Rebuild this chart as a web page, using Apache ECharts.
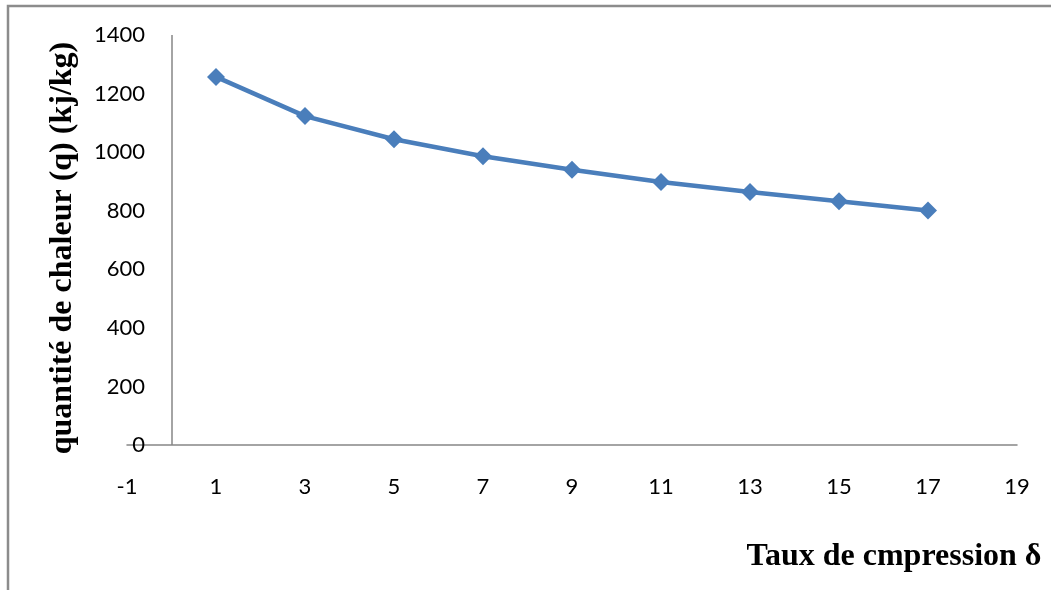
<!DOCTYPE html>
<html>
<head>
<meta charset="utf-8">
<style>
  html, body { margin: 0; padding: 0; background: #ffffff; }
  #chart { width: 1051px; height: 590px; }
</style>
<script src="https://cdn.jsdelivr.net/npm/echarts@6/dist/echarts.min.js"></script>
</head>
<body>
<div id="chart"></div>
<script>
// Compression ratio (x) and heat quantity q in kJ/kg (y)
const compressionRatio = [1, 3, 5, 7, 9, 11, 13, 15, 17];
const heatQuantity = [1257, 1123, 1044, 986, 940, 898, 864, 832, 801];

const xMin = -1, xMax = 19;
const yMin = 0, yMax = 1400, yStep = 200;

const yTitle = 'quantité de chaleur (q) (kj/kg)';
const xTitle = 'Taux de cmpression δ';

const axisGray = '#868686';
const lineBlue = '#4a7ebb';
const tickFont = 'Lato, "Open Sans", sans-serif';
const titleFont = '"Liberation Serif", "DejaVu Serif", serif';

const chart = echarts.init(document.getElementById('chart'));

chart.setOption({
  animation: false,
  backgroundColor: '#ffffff',
  grid: { left: 127, right: 34, top: 35, bottom: 145 },
  xAxis: {
    type: 'value',
    min: xMin,
    max: xMax,
    interval: 1,
    axisLine: { show: true, onZero: true, lineStyle: { color: axisGray, width: 1.5 } },
    axisTick: { show: false },
    splitLine: { show: false },
    axisLabel: {
      margin: 31,
      color: '#000',
      fontFamily: tickFont,
      fontSize: 22,
      // labels on odd values only: -1, 1, 3, ... 19
      formatter: v => (Math.abs(v % 2) === 1 ? String(v) : '')
    }
  },
  yAxis: {
    type: 'value',
    min: yMin,
    max: yMax,
    interval: yStep,
    axisLine: { show: false },
    axisTick: { show: false },
    splitLine: { show: false },
    axisLabel: {
      margin: -18,
      color: '#000',
      fontFamily: tickFont,
      fontSize: 22,
      formatter: v => String(v)
    }
  },
  series: [{
    type: 'line',
    data: compressionRatio.map((x, i) => [x, heatQuantity[i]]),
    symbol: 'diamond',
    symbolSize: 18,
    lineStyle: { color: lineBlue, width: 4.5 },
    itemStyle: { color: lineBlue },
    // vertical axis line drawn where x = 0
    markLine: {
      silent: true,
      symbol: ['none', 'none'],
      label: { show: false },
      lineStyle: { color: axisGray, width: 1.5, type: 'solid' },
      data: [{ xAxis: 0 }]
    }
  }],
  graphic: [
    {
      type: 'polyline',
      shape: { points: [[8, 590], [8, 6], [1051, 6]] },
      style: { stroke: '#8c8c8c', lineWidth: 2.5, fill: null }
    },
    {
      type: 'text',
      x: 63,
      y: 248,
      rotation: Math.PI / 2,
      style: {
        text: yTitle,
        fill: '#000',
        font: 'bold 32px ' + titleFont,
        textAlign: 'center',
        textVerticalAlign: 'middle'
      }
    },
    {
      type: 'text',
      x: 894,
      y: 557,
      style: {
        text: xTitle,
        fill: '#000',
        font: 'bold 32px ' + titleFont,
        textAlign: 'center',
        textVerticalAlign: 'middle'
      }
    }
  ]
});
</script>
</body>
</html>
